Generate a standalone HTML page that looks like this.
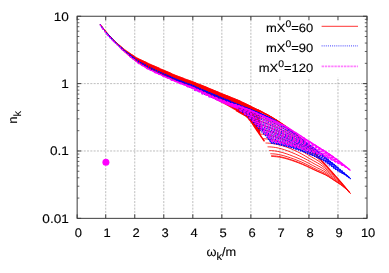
<!DOCTYPE html>
<html><head><meta charset="utf-8"><title>n_k vs omega_k/m</title>
<style>
html,body{margin:0;padding:0;background:#fff;}
body{width:389px;height:273px;overflow:hidden;}
svg{display:block;}
text{font-family:"Liberation Sans",sans-serif;fill:#000;stroke:#000;stroke-width:0.12px;text-rendering:geometricPrecision;filter:grayscale(1);}
</style></head><body>
<svg width="389" height="273" viewBox="0 0 389 273">
<defs><filter id="soft" x="0" y="0" width="389" height="273" filterUnits="userSpaceOnUse"><feGaussianBlur stdDeviation="0.38"/></filter></defs>
<rect width="389" height="273" fill="#fff"/>
<g filter="url(#soft)">
<g stroke="#999999" stroke-width="0.65" stroke-dasharray="2 1.3" fill="none">
<line x1="105.73" y1="16.25" x2="105.73" y2="218.35"/>
<line x1="134.76" y1="16.25" x2="134.76" y2="218.35"/>
<line x1="163.79" y1="16.25" x2="163.79" y2="218.35"/>
<line x1="192.82" y1="16.25" x2="192.82" y2="218.35"/>
<line x1="221.85" y1="16.25" x2="221.85" y2="218.35"/>
<line x1="250.88" y1="16.25" x2="250.88" y2="218.35"/>
<line x1="279.91" y1="16.25" x2="279.91" y2="218.35"/>
<line x1="308.94" y1="16.25" x2="308.94" y2="218.35"/>
<line x1="337.97" y1="16.25" x2="337.97" y2="218.35"/>
<line x1="77.15" y1="83.62" x2="367.00" y2="83.62"/>
<line x1="77.15" y1="150.98" x2="367.00" y2="150.98"/>
</g>
<g id="curves" fill="none" stroke-linejoin="round">
<path d="M100.00 24.00 L102.00 26.69 L104.00 29.27 L106.00 31.70 L108.00 34.00 L110.00 36.20 L112.00 38.29 L114.00 40.28 L116.00 42.16 L118.00 43.96 L120.00 45.70 L122.00 47.40 L124.00 49.00 L126.00 50.42 L128.00 51.80 L130.00 53.27 L132.00 54.70 L134.00 56.00 L136.00 57.18 L138.00 58.27 L140.00 59.30 L142.00 60.29 L144.00 61.25 L146.00 62.18 L148.00 63.10 L150.00 64.02 L152.00 64.92 L154.00 65.81 L156.00 66.70 L158.00 67.58 L160.00 68.46 L162.00 69.33 L164.00 70.20 L166.00 71.08 L168.00 71.95 L170.00 72.83 L172.00 73.70 L174.00 74.55 L176.00 75.39 L178.00 76.20 L180.00 76.98 L182.00 77.74 L184.00 78.48 L186.00 79.21 L188.00 79.93 L190.00 80.67 L192.00 81.42 L194.00 82.19 L196.00 82.97 L198.00 83.76 L200.00 84.56 L202.00 85.36 L204.00 86.18 L206.00 86.99 L208.00 87.81 L210.00 88.64 L212.00 89.49 L214.00 90.34 L216.00 91.19 L218.00 92.03 L220.00 92.87 L222.00 93.70 L224.00 94.51 L226.00 95.29 L228.00 96.07 L230.00 96.85 L232.00 97.63 L234.00 98.43 L236.00 99.25 L238.00 100.10 L240.00 100.99 L242.00 101.92 L244.00 102.87 L246.00 103.84 L248.00 104.83 L250.00 105.81 L252.00 106.79 L254.00 107.77 L256.00 108.77 L258.00 109.77 L260.00 110.80 L260.00 134.85 L258.00 131.96 L256.00 129.01 L254.00 126.00 L252.00 122.90 L250.00 120.22 L248.00 117.84 L246.00 116.00 L244.00 114.83 L242.00 113.74 L240.00 112.62 L238.00 111.50 L236.00 110.37 L234.00 109.23 L232.00 108.08 L230.00 106.93 L228.00 105.79 L226.00 104.67 L224.00 103.57 L222.00 102.50 L220.00 101.45 L218.00 100.41 L216.00 99.39 L214.00 98.37 L212.00 97.36 L210.00 96.37 L208.00 95.38 L206.00 94.41 L204.00 93.44 L202.00 92.48 L200.00 91.54 L198.00 90.60 L196.00 89.67 L194.00 88.76 L192.00 87.85 L190.00 86.96 L188.00 86.09 L186.00 85.24 L184.00 84.40 L182.00 83.57 L180.00 82.74 L178.00 81.92 L176.00 81.10 L174.00 80.27 L172.00 79.44 L170.00 78.60 L168.00 77.75 L166.00 76.88 L164.00 76.00 L162.00 75.11 L160.00 74.22 L158.00 73.33 L156.00 72.42 L154.00 71.50 L152.00 70.54 L150.00 69.54 L148.00 68.50 L146.00 67.41 L144.00 66.28 L142.00 65.11 L140.00 63.87 L138.00 62.58 L136.00 61.21 L134.00 59.76 L132.00 58.26 L130.00 56.71 L128.00 55.08 L126.00 53.29 L124.00 51.38 L122.00 49.49 L120.00 47.38 L118.00 45.09 L116.00 42.81 L114.00 40.58 L112.00 38.39 L110.00 36.22 L108.00 34.02 L106.00 31.71 L104.00 29.28 L102.00 26.70 L100.00 24.00Z" fill="#ff0000" stroke="#ff0000" stroke-width="0.6"/>
<g stroke="#ff0000" stroke-width="0.85">
<path d="M101.88 26.54 L103.63 28.80"/>
<path d="M106.80 32.65 L108.27 34.31 L112.31 38.61"/>
<path d="M113.51 40.04 L114.72 41.18 L118.13 44.23 L123.21 48.39"/>
<path d="M121.15 48.65 L122.16 49.26 L125.04 50.85 L129.46 53.28 L135.03 56.62"/>
<path d="M129.26 56.34 L130.11 56.62 L132.58 57.38 L136.44 58.52 L141.41 60.26 L147.22 62.74"/>
<path d="M137.59 62.02 L138.32 62.15 L140.47 62.53 L143.88 63.16 L148.33 64.21 L153.61 65.90 L159.51 68.24"/>
<path d="M145.99 67.00 L146.64 67.08 L148.54 67.30 L151.57 67.68 L155.59 68.34 L160.41 69.46 L165.86 71.18 L171.78 73.60"/>
<path d="M154.37 71.29 L154.95 71.34 L156.65 71.50 L159.39 71.76 L163.04 72.24 L167.46 73.09 L172.51 74.44 L178.05 76.33 L183.94 78.46"/>
<path d="M162.67 75.33 L163.19 75.36 L164.73 75.48 L167.23 75.67 L170.57 76.02 L174.66 76.63 L179.35 77.60 L184.53 79.01 L190.09 80.78 L195.92 82.94"/>
<path d="M170.84 78.80 L171.32 78.83 L172.73 78.91 L175.02 79.05 L178.11 79.30 L181.90 79.76 L186.28 80.54 L191.15 81.76 L196.39 83.40 L201.93 85.40 L207.67 87.67"/>
<path d="M178.85 82.02 L179.28 82.04 L180.59 82.11 L182.70 82.24 L185.58 82.47 L189.11 82.88 L193.22 83.60 L197.81 84.72 L202.78 86.21 L208.05 88.04 L213.52 90.18 L219.14 92.51"/>
<path d="M186.65 85.29 L187.06 85.32 L188.27 85.38 L190.24 85.49 L192.93 85.70 L196.24 86.07 L200.12 86.71 L204.46 87.73 L209.18 89.11 L214.20 90.82 L219.44 92.78 L224.83 94.87 L230.31 96.97"/>
<path d="M194.22 88.64 L194.61 88.66 L195.74 88.72 L197.59 88.82 L200.12 89.01 L203.24 89.36 L206.91 89.95 L211.03 90.89 L215.52 92.15 L220.32 93.68 L225.35 95.39 L230.53 97.24 L235.81 99.23 L241.13 101.51"/>
<path d="M201.55 92.13 L201.91 92.15 L202.97 92.20 L204.72 92.29 L207.11 92.46 L210.07 92.77 L213.55 93.29 L217.48 94.11 L221.77 95.19 L226.37 96.50 L231.20 98.04 L236.19 99.81 L241.29 101.84 L246.44 104.12 L251.58 106.59"/>
<path d="M208.60 95.52 L208.94 95.53 L209.95 95.58 L211.60 95.65 L213.87 95.79 L216.69 96.05 L220.01 96.50 L223.76 97.21 L227.88 98.17 L232.29 99.41 L236.94 100.94 L241.76 102.76 L246.70 104.75 L251.68 106.88 L256.68 109.17 L261.63 111.65"/>
<path d="M215.35 98.65 L215.67 98.66 L216.63 98.70 L218.21 98.77 L220.37 98.90 L223.07 99.15 L226.25 99.58 L229.84 100.27 L233.80 101.25 L238.06 102.53 L242.54 104.06 L247.21 105.78 L251.98 107.61 L256.83 109.59 L261.68 111.80 L266.50 114.24 L271.25 116.93"/>
<path d="M221.79 101.73 L222.10 101.74 L223.02 101.78 L224.53 101.86 L226.60 101.99 L229.18 102.24 L232.23 102.68 L235.70 103.38 L239.51 104.34 L243.62 105.55 L247.96 106.96 L252.48 108.55 L257.12 110.28 L261.82 112.20 L266.55 114.38 L271.25 116.91 L275.89 119.74 L280.42 122.68"/>
<path d="M227.89 104.70 L228.19 104.71 L229.07 104.75 L230.52 104.82 L232.51 104.95 L235.00 105.19 L237.94 105.60 L241.28 106.25 L244.97 107.13 L248.95 108.24 L253.16 109.57 L257.55 111.10 L262.06 112.78 L266.64 114.70 L271.25 116.97 L275.84 119.63 L280.37 122.58 L284.81 125.62 L289.10 128.69"/>
<path d="M233.65 107.71 L233.93 107.72 L234.78 107.76 L236.18 107.82 L238.10 107.94 L240.51 108.16 L243.35 108.54 L246.59 109.14 L250.16 109.98 L254.02 111.05 L258.11 112.33 L262.38 113.83 L266.78 115.54 L271.25 117.56 L275.76 119.94 L280.25 122.74 L284.68 125.80 L289.02 128.98 L293.23 132.02 L297.29 135.08"/>
<path d="M239.04 111.24 L239.32 111.25 L240.14 111.28 L241.49 111.35 L243.35 111.46 L245.68 111.67 L248.44 112.02 L251.58 112.61 L255.05 113.42 L258.81 114.48 L262.80 115.80 L266.96 117.38 L271.25 119.22 L275.63 121.36 L280.03 123.89 L284.43 126.82 L288.77 130.05 L293.03 133.09 L297.17 135.83 L301.15 138.65 L304.95 141.96"/>
<path d="M244.05 115.37 L244.32 115.38 L245.12 115.42 L246.43 115.48 L248.24 115.60 L250.50 115.81 L253.18 116.19 L256.24 116.81 L259.62 117.68 L263.29 118.82 L267.18 120.25 L271.25 121.96 L275.45 123.92 L279.73 126.19 L284.05 128.89 L288.37 131.87 L292.63 134.80 L296.82 137.52 L300.88 140.01 L304.80 142.60 L308.54 145.68 L312.08 149.43"/>
<path d="M248.67 119.81 L248.93 119.82 L249.71 119.86 L250.99 119.93 L252.75 120.05 L254.95 120.28 L257.57 120.69 L260.55 121.36 L263.86 122.30 L267.44 123.52 L271.25 125.04 L275.24 126.85 L279.36 128.94 L283.56 131.29 L287.80 133.80 L292.04 136.44 L296.23 139.08 L300.35 141.57 L304.35 143.88 L308.21 146.29 L311.90 149.45 L315.38 153.44 L318.64 157.31"/>
<path d="M252.89 124.27 L253.14 124.28 L253.90 124.33 L255.15 124.40 L256.87 124.53 L259.02 124.78 L261.58 125.21 L264.50 125.91 L267.74 126.90 L271.25 128.20 L274.99 129.81 L278.90 131.62 L282.95 133.56 L287.07 135.65 L291.25 137.92 L295.42 140.34 L299.55 142.78 L303.60 145.11 L307.55 147.32 L311.36 149.88 L314.99 153.21 L318.43 157.08 L321.65 160.63 L324.63 163.85"/>
<path d="M256.69 129.02 L256.94 129.04 L257.68 129.08 L258.90 129.16 L260.59 129.30 L262.70 129.56 L265.21 130.01 L268.07 130.72 L271.25 131.69 L274.70 132.91 L278.37 134.35 L282.22 135.97 L286.20 137.72 L290.27 139.63 L294.38 141.72 L298.49 143.97 L302.56 146.27 L306.57 148.61 L310.46 151.00 L314.22 153.66 L317.82 156.88 L321.22 160.44 L324.40 163.86 L327.34 166.97 L330.03 169.80"/>
<path d="M260.07 134.05 L260.31 134.07 L261.04 134.11 L262.24 134.17 L263.89 134.30 L265.97 134.53 L268.43 134.92 L271.25 135.55 L274.38 136.41 L277.78 137.50 L281.39 138.80 L285.19 140.27 L289.11 141.88 L293.12 143.64 L297.18 145.58 L301.24 147.76 L305.26 150.21 L309.22 152.72 L313.07 155.12 L316.79 157.62 L320.35 160.56 L323.71 163.97 L326.86 167.26 L329.78 170.05 L332.44 172.61 L334.82 175.18"/>
<path d="M263.01 138.73 L263.25 138.74 L263.97 138.78 L265.15 138.84 L266.78 138.95 L268.82 139.16 L271.25 139.51 L274.03 140.08 L277.12 140.87 L280.46 141.86 L284.03 143.06 L287.78 144.42 L291.66 145.90 L295.62 147.60 L299.63 149.65 L303.65 152.02 L307.63 154.53 L311.55 156.93 L315.36 159.11 L319.05 161.41 L322.57 164.25 L325.90 167.50 L329.03 170.44 L331.92 172.96 L334.56 175.29 L336.92 177.66 L339.01 179.96"/>
<path d="M265.52 142.99 L265.75 143.00 L266.46 143.04 L267.63 143.09 L269.23 143.19 L271.25 143.38 L273.65 143.71 L276.40 144.24 L279.45 144.97 L282.76 145.89 L286.29 147.03 L289.99 148.40 L293.83 150.00 L297.76 151.86 L301.73 153.97 L305.71 156.28 L309.66 158.58 L313.54 160.77 L317.32 162.84 L320.98 165.09 L324.47 167.76 L327.78 170.66 L330.88 173.32 L333.75 175.61 L336.37 177.77 L338.72 179.96 L340.79 182.10 L342.56 184.10"/>
<path d="M267.58 146.79 L267.81 146.80 L268.51 146.83 L269.66 146.89 L271.25 146.99 L273.25 147.18 L275.63 147.50 L278.34 148.04 L281.36 148.80 L284.64 149.81 L288.14 151.05 L291.82 152.51 L295.62 154.14 L299.51 155.95 L303.46 157.91 L307.41 160.01 L311.33 162.17 L315.18 164.30 L318.94 166.32 L322.57 168.37 L326.04 170.77 L329.33 173.40 L332.41 175.83 L335.27 177.96 L337.87 179.96 L340.21 182.01 L342.26 184.01 L344.02 185.89 L345.48 187.54"/>
<path d="M269.18 150.52 L269.41 150.53 L270.11 150.57 L271.25 150.62 L272.83 150.73 L274.81 150.94 L277.17 151.29 L279.86 151.86 L282.86 152.65 L286.12 153.67 L289.59 154.90 L293.24 156.30 L297.02 157.82 L300.89 159.46 L304.81 161.29 L308.74 163.32 L312.63 165.45 L316.47 167.45 L320.21 169.27 L323.82 171.13 L327.27 173.32 L330.55 175.75 L333.61 178.02 L336.45 180.01 L339.04 181.88 L341.37 183.81 L343.42 185.70 L345.17 187.44 L346.62 188.95 L347.76 190.26"/>
<path d="M270.33 153.69 L270.56 153.70 L271.25 153.74 L272.39 153.79 L273.96 153.90 L275.93 154.10 L278.27 154.45 L280.95 155.01 L283.93 155.77 L287.18 156.74 L290.63 157.88 L294.26 159.18 L298.03 160.60 L301.88 162.19 L305.78 163.99 L309.69 165.98 L313.57 167.96 L317.39 169.80 L321.12 171.48 L324.71 173.21 L328.16 175.26 L331.42 177.55 L334.48 179.70 L337.31 181.58 L339.89 183.37 L342.21 185.20 L344.25 186.99 L346.00 188.61 L347.44 190.03 L348.58 191.26 L349.39 192.22"/>
<path d="M271.02 155.73 L271.25 155.74 L271.94 155.77 L273.07 155.83 L274.64 155.93 L276.60 156.12 L278.93 156.45 L281.61 156.99 L284.58 157.71 L287.81 158.62 L291.26 159.72 L294.88 160.98 L298.63 162.38 L302.47 163.96 L306.36 165.73 L310.26 167.62 L314.14 169.50 L317.95 171.25 L321.66 172.85 L325.25 174.51 L328.69 176.47 L331.94 178.68 L334.99 180.75 L337.82 182.58 L340.40 184.30 L342.71 186.08 L344.75 187.78 L346.49 189.33 L347.94 190.70 L349.07 191.90 L349.88 192.82 L350.37 193.40"/>
<path d="M271.25 156.41 L271.48 156.42 L272.17 156.46 L273.30 156.51 L274.86 156.61 L276.82 156.80 L279.16 157.13 L281.83 157.65 L284.80 158.36 L288.02 159.26 L291.47 160.35 L295.08 161.60 L298.83 163.00 L302.67 164.57 L306.56 166.32 L310.46 168.17 L314.33 170.01 L318.13 171.73 L321.85 173.31 L325.43 174.94 L328.87 176.88 L332.12 179.07 L335.17 181.11 L337.99 182.91 L340.57 184.62 L342.88 186.38 L344.92 188.05 L346.66 189.58 L348.10 190.93 L349.23 192.11 L350.05 193.03 L350.54 193.60 L350.70 193.80"/>
<path d="M100.00 24.00 L101.88 26.54 L103.63 28.80 L106.80 32.65 L108.27 34.31 L112.31 38.61 L113.51 40.04"/>
<path d="M258.00 109.77 L259.50 110.54 L261.00 111.32 L262.50 112.10 L264.00 112.89 L265.50 113.70 L267.00 114.51 L268.50 115.35 L270.00 116.20 L271.50 117.08 L273.00 117.97 L274.50 118.88 L276.00 119.82 L277.50 120.77 L279.00 121.74 L280.50 122.73 L282.00 123.73 L283.50 124.75 L285.00 125.78 L286.50 126.82 L288.00 127.89 L289.50 128.98 L291.00 130.09 L292.50 131.23 L294.00 132.40 L295.50 133.61 L297.00 134.84 L298.50 136.11 L300.00 137.41 L301.50 138.75 L303.00 140.12 L304.50 141.53 L306.00 142.98 L307.50 144.47 L309.00 146.00 L310.50 147.62 L312.00 149.34 L313.50 151.14 L315.00 152.96 L316.50 154.79 L318.00 156.57 L319.50 158.27 L321.00 159.93 L322.50 161.55 L324.00 163.17 L325.50 164.79 L327.00 166.44 L328.50 168.10 L330.00 169.77 L331.50 171.44 L333.00 173.12 L334.50 174.81 L336.00 176.51 L337.50 178.23 L339.00 179.95 L340.50 181.69 L342.00 183.44 L343.50 185.20 L345.00 186.97 L346.50 188.75 L348.00 190.55 L349.50 192.35" stroke-width="1.1"/>
<path d="M236.00 110.37 L236.75 110.80 L237.50 111.22 L238.25 111.64 L239.00 112.06 L239.75 112.48 L240.50 112.90 L241.25 113.32 L242.00 113.74 L242.75 114.16 L243.50 114.57 L244.25 114.96 L245.00 115.36 L245.75 115.82 L246.50 116.39 L247.25 117.07 L248.00 117.84 L248.75 118.69 L249.50 119.60 L250.25 120.54 L251.00 121.50 L251.75 122.53 L252.50 123.67 L253.25 124.84 L254.00 126.00 L254.75 127.13 L255.50 128.26 L256.25 129.39 L257.00 130.50 L257.75 131.60 L258.50 132.68 L259.25 133.76 L260.00 134.85 L260.75 135.96 L261.50 137.09 L262.25 138.20 L263.00 139.30 L263.75 140.34 L264.50 141.35" stroke-width="1.5"/>
</g>
<path d="M236.00 103.78 L238.00 104.60 L240.00 105.41 L242.00 106.20 L244.00 106.99 L246.00 107.78 L248.00 108.58 L250.00 109.39 L252.00 110.21 L254.00 111.03 L256.00 111.85 L258.00 112.67 L260.00 113.50 L262.00 114.35 L264.00 115.21 L266.00 116.11 L268.00 117.03 L270.00 118.00 L272.00 119.02 L274.00 120.09 L276.00 121.21 L278.00 122.39 L280.00 123.60 L282.00 124.86 L284.00 126.16 L286.00 127.49 L288.00 128.86 L290.00 130.26 L292.00 131.69 L294.00 133.15 L296.00 134.63 L298.00 136.12 L300.00 137.63 L302.00 139.15 L304.00 140.67 L306.00 142.20 L308.00 143.73 L310.00 145.27 L312.00 146.84 L314.00 148.43 L316.00 150.05 L318.00 151.68 L320.00 153.32 L322.00 154.96 L324.00 156.60 L326.00 158.22 L328.00 159.82 L330.00 161.39 L330.00 167.48 L328.00 165.91 L326.00 164.31 L324.00 162.51 L322.00 160.62 L320.00 158.82 L318.00 157.30 L316.00 156.05 L314.00 154.91 L312.00 153.89 L310.00 153.00 L308.00 152.23 L306.00 151.54 L304.00 150.91 L302.00 150.34 L300.00 149.80 L298.00 149.28 L296.00 148.79 L294.00 148.30 L292.00 147.84 L290.00 147.42 L288.00 147.02 L286.00 146.63 L284.00 146.23 L282.00 145.79 L280.00 145.30 L278.00 144.82 L276.00 144.34 L274.00 143.73 L272.00 142.88 L270.00 141.03 L268.00 138.48 L266.00 136.24 L264.00 134.07 L262.00 131.97 L260.00 129.89 L258.00 127.65 L256.00 125.34 L254.00 123.00 L252.00 120.63 L250.00 118.41 L248.00 116.29 L246.00 114.50 L244.00 113.19 L242.00 112.01 L240.00 110.86 L238.00 109.80 L236.00 108.85Z" fill="#8414b8" opacity="0.30"/>
<g stroke="#0000ff" stroke-width="1.3" stroke-dasharray="1.3 1.2">
<path d="M101.88 27.05 L103.63 29.46"/>
<path d="M106.80 33.47 L108.27 35.14 L112.31 39.40"/>
<path d="M113.51 40.70 L114.72 41.87 L118.13 45.05 L123.21 49.54"/>
<path d="M121.15 48.41 L122.16 49.23 L125.04 51.47 L129.46 54.73 L135.03 58.82"/>
<path d="M129.26 55.95 L130.11 56.51 L132.58 58.06 L136.44 60.25 L141.41 62.95 L147.22 66.10"/>
<path d="M137.59 62.43 L138.32 62.76 L140.47 63.71 L143.88 65.16 L148.33 67.05 L153.61 69.29 L159.51 71.82"/>
<path d="M145.99 67.70 L146.64 67.91 L148.54 68.51 L151.57 69.46 L155.59 70.78 L160.41 72.51 L165.86 74.69 L171.78 77.32"/>
<path d="M154.37 71.87 L154.95 72.03 L156.65 72.48 L159.39 73.22 L163.04 74.32 L167.46 75.86 L172.51 77.81 L178.05 80.05 L183.94 82.29"/>
<path d="M162.67 75.78 L163.19 75.91 L164.73 76.31 L167.23 76.97 L170.57 77.93 L174.66 79.23 L179.35 80.81 L184.53 82.60 L190.09 84.58 L195.92 86.91"/>
<path d="M170.84 79.60 L171.32 79.71 L172.73 80.03 L175.02 80.55 L178.11 81.29 L181.90 82.29 L186.28 83.58 L191.15 85.22 L196.39 87.25 L201.93 89.56 L207.67 91.98"/>
<path d="M178.85 82.98 L179.28 83.06 L180.59 83.32 L182.70 83.74 L185.58 84.38 L189.11 85.31 L193.22 86.61 L197.81 88.30 L202.78 90.25 L208.05 92.31 L213.52 94.45 L219.14 96.72"/>
<path d="M186.65 86.40 L187.06 86.48 L188.27 86.74 L190.24 87.18 L192.93 87.84 L196.24 88.78 L200.12 90.03 L204.46 91.56 L209.18 93.24 L214.20 95.06 L219.44 97.00 L224.83 99.12 L230.31 101.39"/>
<path d="M194.22 90.09 L194.61 90.17 L195.74 90.41 L197.59 90.81 L200.12 91.39 L203.24 92.21 L206.91 93.27 L211.03 94.59 L215.52 96.10 L220.32 97.75 L225.35 99.58 L230.53 101.57 L235.81 103.71 L241.13 105.86"/>
<path d="M201.55 93.44 L201.91 93.51 L202.97 93.72 L204.72 94.06 L207.11 94.56 L210.07 95.28 L213.55 96.23 L217.48 97.43 L221.77 98.83 L226.37 100.38 L231.20 102.09 L236.19 103.96 L241.29 105.94 L246.44 107.96 L251.58 110.04"/>
<path d="M208.60 96.44 L208.94 96.50 L209.95 96.69 L211.60 96.99 L213.87 97.46 L216.69 98.12 L220.01 99.00 L223.76 100.13 L227.88 101.43 L232.29 102.89 L236.94 104.49 L241.76 106.22 L246.70 108.08 L251.68 110.08 L256.68 112.13 L261.63 114.19"/>
<path d="M215.35 99.26 L215.67 99.31 L216.63 99.49 L218.21 99.77 L220.37 100.21 L223.07 100.82 L226.25 101.65 L229.84 102.70 L233.80 103.93 L238.06 105.28 L242.54 106.75 L247.21 108.39 L251.98 110.25 L256.83 112.21 L261.68 114.23 L266.50 116.35 L271.25 118.63"/>
<path d="M221.79 101.95 L222.10 102.01 L223.02 102.17 L224.53 102.44 L226.60 102.84 L229.18 103.42 L232.23 104.19 L235.70 105.17 L239.51 106.29 L243.62 107.55 L247.96 108.97 L252.48 110.61 L257.12 112.43 L261.82 114.38 L266.55 116.46 L271.25 118.69 L275.89 121.17 L280.42 123.86"/>
<path d="M227.89 104.51 L228.19 104.56 L229.07 104.71 L230.52 104.96 L232.51 105.33 L235.00 105.86 L237.94 106.57 L241.28 107.48 L244.97 108.55 L248.95 109.80 L253.16 111.22 L257.55 112.82 L262.06 114.63 L266.64 116.64 L271.25 118.84 L275.84 121.27 L280.37 123.90 L284.81 126.71 L289.10 129.63"/>
<path d="M233.65 107.19 L233.93 107.24 L234.78 107.37 L236.18 107.60 L238.10 107.95 L240.51 108.46 L243.35 109.15 L246.59 110.06 L250.16 111.13 L254.02 112.34 L258.11 113.73 L262.38 115.35 L266.78 117.24 L271.25 119.40 L275.76 121.82 L280.25 124.41 L284.68 127.16 L289.02 130.05 L293.23 132.81 L297.29 135.59"/>
<path d="M239.04 110.48 L239.32 110.52 L240.14 110.66 L241.49 110.89 L243.35 111.23 L245.68 111.73 L248.44 112.40 L251.58 113.27 L255.05 114.33 L258.81 115.57 L262.80 117.02 L266.96 118.77 L271.25 120.88 L275.63 123.29 L280.03 125.89 L284.43 128.62 L288.77 131.40 L293.03 133.96 L297.17 136.29 L301.15 138.69 L304.95 141.40"/>
<path d="M244.05 114.33 L244.32 114.38 L245.12 114.52 L246.43 114.74 L248.24 115.09 L250.50 115.60 L253.18 116.30 L256.24 117.23 L259.62 118.37 L263.29 119.76 L267.18 121.42 L271.25 123.40 L275.45 125.72 L279.73 128.29 L284.05 130.98 L288.37 133.48 L292.63 135.77 L296.82 137.90 L300.88 139.86 L304.80 141.91 L308.54 144.26 L312.08 146.90"/>
<path d="M248.67 118.18 L248.93 118.23 L249.71 118.37 L250.99 118.63 L252.75 119.01 L254.95 119.58 L257.57 120.37 L260.55 121.43 L263.86 122.73 L267.44 124.27 L271.25 126.07 L275.24 128.18 L279.36 130.59 L283.56 132.99 L287.80 135.24 L292.04 137.32 L296.23 139.26 L300.35 141.08 L304.35 142.79 L308.21 144.58 L311.90 146.77 L315.38 149.50 L318.64 152.21"/>
<path d="M252.89 121.91 L253.14 121.96 L253.90 122.13 L255.15 122.41 L256.87 122.83 L259.02 123.46 L261.58 124.31 L264.50 125.45 L267.74 126.82 L271.25 128.43 L274.99 130.29 L278.90 132.31 L282.95 134.39 L287.07 136.43 L291.25 138.37 L295.42 140.18 L299.55 141.89 L303.60 143.51 L307.55 145.03 L311.36 146.75 L314.99 149.02 L318.43 151.84 L321.65 154.62 L324.63 157.11"/>
<path d="M256.69 125.49 L256.94 125.55 L257.68 125.72 L258.90 126.02 L260.59 126.46 L262.70 127.11 L265.21 128.01 L268.07 129.18 L271.25 130.58 L274.70 132.11 L278.37 133.74 L282.22 135.48 L286.20 137.29 L290.27 139.09 L294.38 140.81 L298.49 142.44 L302.56 143.98 L306.57 145.46 L310.46 146.97 L314.22 148.75 L317.82 151.08 L321.22 153.98 L324.40 156.83 L327.34 159.31 L330.03 161.42"/>
<path d="M260.07 129.00 L260.31 129.06 L261.04 129.23 L262.24 129.54 L263.89 129.99 L265.97 130.65 L268.43 131.51 L271.25 132.58 L274.38 133.80 L277.78 135.12 L281.39 136.55 L285.19 138.09 L289.11 139.70 L293.12 141.32 L297.18 142.88 L301.24 144.35 L305.26 145.79 L309.22 147.29 L313.07 148.85 L316.79 150.68 L320.35 153.07 L323.71 156.03 L326.86 158.91 L329.78 161.29 L332.44 163.33 L334.82 165.21"/>
<path d="M263.01 132.25 L263.25 132.30 L263.97 132.46 L265.15 132.73 L266.78 133.13 L268.82 133.70 L271.25 134.45 L274.03 135.39 L277.12 136.47 L280.46 137.65 L284.03 138.93 L287.78 140.31 L291.66 141.77 L295.62 143.24 L299.63 144.66 L303.65 146.07 L307.63 147.54 L311.55 149.08 L315.36 150.68 L319.05 152.55 L322.57 155.00 L325.90 158.02 L329.03 160.80 L331.92 163.11 L334.56 165.11 L336.92 166.98 L339.01 168.64"/>
<path d="M265.52 135.27 L265.75 135.32 L266.46 135.46 L267.63 135.69 L269.23 136.05 L271.25 136.54 L273.65 137.20 L276.40 138.04 L279.45 138.99 L282.76 140.05 L286.29 141.20 L289.99 142.44 L293.83 143.77 L297.76 145.11 L301.73 146.50 L305.71 147.94 L309.66 149.45 L313.54 151.04 L317.32 152.68 L320.98 154.59 L324.47 157.09 L327.78 160.07 L330.88 162.75 L333.75 165.01 L336.37 167.00 L338.72 168.75 L340.79 170.23 L342.56 171.68"/>
<path d="M267.58 137.94 L267.81 137.99 L268.51 138.11 L269.66 138.32 L271.25 138.63 L273.25 139.07 L275.63 139.66 L278.34 140.41 L281.36 141.27 L284.64 142.22 L288.14 143.26 L291.82 144.39 L295.62 145.61 L299.51 146.96 L303.46 148.39 L307.41 149.88 L311.33 151.43 L315.18 153.05 L318.94 154.73 L322.57 156.69 L326.04 159.20 L329.33 162.05 L332.41 164.66 L335.27 166.91 L337.87 168.77 L340.21 170.33 L342.26 171.69 L344.02 173.02 L345.48 174.24"/>
<path d="M269.18 140.18 L269.41 140.22 L270.11 140.33 L271.25 140.52 L272.83 140.80 L274.81 141.20 L277.17 141.73 L279.86 142.41 L282.86 143.19 L286.12 144.06 L289.59 145.02 L293.24 146.10 L297.02 147.36 L300.89 148.74 L304.81 150.21 L308.74 151.74 L312.63 153.32 L316.47 154.98 L320.21 156.70 L323.82 158.67 L327.27 161.08 L330.55 163.85 L333.61 166.44 L336.45 168.58 L339.04 170.26 L341.37 171.69 L343.42 172.94 L345.17 174.17 L346.62 175.30 L347.76 176.28"/>
<path d="M270.33 141.83 L270.56 141.87 L271.25 141.97 L272.39 142.14 L273.96 142.41 L275.93 142.78 L278.27 143.27 L280.95 143.90 L283.93 144.63 L287.18 145.45 L290.63 146.41 L294.26 147.52 L298.03 148.81 L301.88 150.22 L305.78 151.72 L309.69 153.27 L313.57 154.89 L317.39 156.57 L321.12 158.31 L324.71 160.22 L328.16 162.56 L331.42 165.29 L334.48 167.85 L337.31 169.81 L339.89 171.37 L342.21 172.71 L344.25 173.88 L346.00 175.03 L347.44 176.10 L348.58 177.03 L349.39 177.76"/>
<path d="M271.02 142.83 L271.25 142.86 L271.94 142.96 L273.07 143.12 L274.64 143.37 L276.60 143.73 L278.93 144.20 L281.61 144.80 L284.58 145.52 L287.81 146.35 L291.26 147.32 L294.88 148.45 L298.63 149.75 L302.47 151.18 L306.36 152.69 L310.26 154.27 L314.14 155.90 L317.95 157.61 L321.66 159.31 L325.25 161.19 L328.69 163.49 L331.94 166.22 L334.99 168.68 L337.82 170.55 L340.40 172.04 L342.71 173.33 L344.75 174.45 L346.49 175.56 L347.94 176.59 L349.07 177.50 L349.88 178.21 L350.37 178.66"/>
<path d="M271.25 143.16 L271.48 143.19 L272.17 143.29 L273.30 143.45 L274.86 143.69 L276.82 144.04 L279.16 144.51 L281.83 145.11 L284.80 145.82 L288.02 146.66 L291.47 147.64 L295.08 148.77 L298.83 150.08 L302.67 151.51 L306.56 153.03 L310.46 154.61 L314.33 156.25 L318.13 157.96 L321.85 159.65 L325.43 161.51 L328.87 163.81 L332.12 166.53 L335.17 168.96 L337.99 170.79 L340.57 172.27 L342.88 173.54 L344.92 174.65 L346.66 175.73 L348.10 176.75 L349.23 177.66 L350.05 178.37 L350.54 178.81 L350.70 178.96"/>
<path d="M100.00 24.30 L101.88 27.05 L103.63 29.46 L106.80 33.47 L108.27 35.14 L112.31 39.40 L113.51 40.70"/>
<path d="M108.00 34.83 L110.00 37.01 L112.00 39.09 L114.00 41.10 L116.00 43.02 L118.00 44.88 L120.00 46.70 L122.00 48.48 L124.00 50.20 L126.00 51.82 L128.00 53.40 L130.00 55.02 L132.00 56.60 L134.00 58.09 L136.00 59.48 L138.00 60.77 L140.00 62.00 L142.00 63.19 L144.00 64.34 L146.00 65.45 L148.00 66.50 L150.00 67.50 L152.00 68.45 L154.00 69.37 L156.00 70.27 L158.00 71.15 L160.00 72.03 L162.00 72.91 L164.00 73.80 L166.00 74.70 L168.00 75.61 L170.00 76.52 L172.00 77.42 L174.00 78.30 L176.00 79.17 L178.00 80.00 L180.00 80.80 L182.00 81.57 L184.00 82.31 L186.00 83.05 L188.00 83.78 L190.00 84.53 L192.00 85.30 L194.00 86.11 L196.00 86.94 L198.00 87.80 L200.00 88.67 L202.00 89.54 L204.00 90.42 L206.00 91.28 L208.00 92.12 L210.00 92.95 L212.00 93.78 L214.00 94.60 L216.00 95.43 L218.00 96.25 L220.00 97.07 L222.00 97.90 L224.00 98.74 L226.00 99.58 L228.00 100.42 L230.00 101.26 L232.00 102.11 L234.00 102.95 L236.00 103.78 L238.00 104.60 L240.00 105.41 L242.00 106.20 L244.00 106.99 L246.00 107.78 L248.00 108.58 L250.00 109.39 L252.00 110.21 L254.00 111.03 L256.00 111.85 L258.00 112.67 L260.00 113.50 L262.00 114.35 L264.00 115.21 L266.00 116.11 L268.00 117.03 L270.00 118.00 L272.00 119.02 L274.00 120.09 L276.00 121.21 L278.00 122.39 L280.00 123.60 L282.00 124.86 L284.00 126.16 L286.00 127.49 L288.00 128.86 L290.00 130.26 L292.00 131.69 L294.00 133.15 L296.00 134.63 L298.00 136.12 L300.00 137.63 L302.00 139.15 L304.00 140.67 L306.00 142.20 L308.00 143.73 L310.00 145.27 L312.00 146.84 L314.00 148.43 L316.00 150.05 L318.00 151.68 L320.00 153.32 L322.00 154.96 L324.00 156.60 L326.00 158.22 L328.00 159.82 L330.00 161.39 L332.00 162.97 L334.00 164.55 L336.00 166.15 L338.00 167.80 L340.00 169.48 L342.00 171.20 L344.00 172.94 L346.00 174.70 L348.00 176.50 L350.00 178.32"/>
<path d="M240.00 110.86 L240.75 111.28 L241.50 111.71 L242.25 112.15 L243.00 112.60 L243.75 113.04 L244.50 113.49 L245.25 113.97 L246.00 114.50 L246.75 115.11 L247.50 115.80 L248.25 116.54 L249.00 117.33 L249.75 118.14 L250.50 118.96 L251.25 119.77 L252.00 120.63 L252.75 121.52 L253.50 122.41 L254.25 123.29 L255.00 124.17 L255.75 125.05 L256.50 125.92 L257.25 126.79 L258.00 127.65 L258.75 128.50 L259.50 129.34 L260.25 130.16 L261.00 130.95 L261.75 131.71 L262.50 132.48 L263.25 133.27 L264.00 134.07 L264.75 134.88 L265.50 135.70 L266.25 136.51 L267.00 137.32 L267.75 138.18 L268.50 139.11 L269.25 140.06 L270.00 141.03 L270.75 141.93" transform="translate(0.0 0.0)"/>
<path d="M240.00 110.86 L240.75 111.28 L241.50 111.71 L242.25 112.15 L243.00 112.60 L243.75 113.04 L244.50 113.49 L245.25 113.97 L246.00 114.50 L246.75 115.11 L247.50 115.80 L248.25 116.54 L249.00 117.33 L249.75 118.14 L250.50 118.96 L251.25 119.77 L252.00 120.63 L252.75 121.52 L253.50 122.41 L254.25 123.29 L255.00 124.17 L255.75 125.05 L256.50 125.92 L257.25 126.79 L258.00 127.65 L258.75 128.50 L259.50 129.34 L260.25 130.16 L261.00 130.95 L261.75 131.71 L262.50 132.48 L263.25 133.27 L264.00 134.07 L264.75 134.88 L265.50 135.70 L266.25 136.51 L267.00 137.32 L267.75 138.18 L268.50 139.11 L269.25 140.06 L270.00 141.03 L270.75 141.93" transform="translate(0.5 -1.6)"/>
<path d="M240.00 110.86 L240.75 111.28 L241.50 111.71 L242.25 112.15 L243.00 112.60 L243.75 113.04 L244.50 113.49 L245.25 113.97 L246.00 114.50 L246.75 115.11 L247.50 115.80 L248.25 116.54 L249.00 117.33 L249.75 118.14 L250.50 118.96 L251.25 119.77 L252.00 120.63 L252.75 121.52 L253.50 122.41 L254.25 123.29 L255.00 124.17 L255.75 125.05 L256.50 125.92 L257.25 126.79 L258.00 127.65 L258.75 128.50 L259.50 129.34 L260.25 130.16 L261.00 130.95 L261.75 131.71 L262.50 132.48 L263.25 133.27 L264.00 134.07 L264.75 134.88 L265.50 135.70 L266.25 136.51 L267.00 137.32 L267.75 138.18 L268.50 139.11 L269.25 140.06 L270.00 141.03 L270.75 141.93" transform="translate(1.0 -3.2)"/>
</g>
<path d="M112.00 39.88 L114.00 41.90 L116.00 43.82 L118.00 45.67 L120.00 47.50 L122.00 49.33 L124.00 51.10 L126.00 52.76 L128.00 54.40 L130.00 56.17 L132.00 57.90 L134.00 59.46 L136.00 60.93 L138.00 62.36 L140.00 63.70 L142.00 64.96 L144.00 66.17 L146.00 67.31 L148.00 68.40 L150.00 69.43 L152.00 70.42 L154.00 71.38 L156.00 72.30 L158.00 73.21 L160.00 74.11 L162.00 75.00 L164.00 75.90 L166.00 76.81 L168.00 77.71 L170.00 78.61 L172.00 79.50 L174.00 80.36 L176.00 81.20 L178.00 82.00 L180.00 82.75 L182.00 83.46 L184.00 84.14 L186.00 84.81 L188.00 85.48 L190.00 86.18 L192.00 86.91 L194.00 87.70 L196.00 88.56 L198.00 89.45 L200.00 90.38 L202.00 91.31 L204.00 92.24 L206.00 93.16 L208.00 94.04 L210.00 94.92 L212.00 95.80 L214.00 96.67 L216.00 97.53 L218.00 98.38 L220.00 99.20 L222.00 100.00 L224.00 100.77 L226.00 101.51 L228.00 102.23 L230.00 102.94 L232.00 103.64 L234.00 104.35 L236.00 105.06 L238.00 105.80 L238.00 109.50 L236.00 108.59 L234.00 107.75 L232.00 106.96 L230.00 106.20 L228.00 105.45 L226.00 104.67 L224.00 103.87 L222.00 103.00 L220.00 102.06 L218.00 101.07 L216.00 100.03 L214.00 98.97 L212.00 97.92 L210.00 96.88 L208.00 95.88 L206.00 94.93 L204.00 94.01 L202.00 93.10 L200.00 92.22 L198.00 91.34 L196.00 90.48 L194.00 89.62 L192.00 88.78 L190.00 87.95 L188.00 87.15 L186.00 86.35 L184.00 85.55 L182.00 84.75 L180.00 83.94 L178.00 83.10 L176.00 82.25 L174.00 81.38 L172.00 80.50 L170.00 79.61 L168.00 78.72 L166.00 77.81 L164.00 76.90 L162.00 75.99 L160.00 75.08 L158.00 74.17 L156.00 73.25 L154.00 72.31 L152.00 71.34 L150.00 70.34 L148.00 69.31 L146.00 68.23 L144.00 67.10 L142.00 65.89 L140.00 64.60 L138.00 63.23 L136.00 61.75 L134.00 60.21 L132.00 58.60 L130.00 56.84 L128.00 54.96 L126.00 53.19 L124.00 51.46 L122.00 49.62 L120.00 47.71 L118.00 45.81 L116.00 43.91 L114.00 41.95 L112.00 39.91Z" fill="#ff00ff" stroke="none" opacity="0.9"/>
<path d="M236.00 105.06 L238.00 105.80 L240.00 106.55 L242.00 107.30 L244.00 108.06 L246.00 108.82 L248.00 109.60 L250.00 110.40 L252.00 111.21 L254.00 112.03 L256.00 112.87 L258.00 113.72 L260.00 114.58 L262.00 115.45 L264.00 116.33 L266.00 117.21 L268.00 118.10 L270.00 119.00 L272.00 119.89 L274.00 120.77 L276.00 121.66 L278.00 122.57 L280.00 123.49 L282.00 124.46 L284.00 125.47 L286.00 126.55 L288.00 127.72 L290.00 128.95 L292.00 130.23 L294.00 131.52 L296.00 132.80 L298.00 134.07 L300.00 135.36 L302.00 136.65 L304.00 137.95 L306.00 139.25 L308.00 140.55 L310.00 141.85 L312.00 143.15 L314.00 144.46 L316.00 145.76 L318.00 147.04 L320.00 148.30 L322.00 149.50 L324.00 150.68 L326.00 151.94 L328.00 153.25 L330.00 154.59 L330.00 161.88 L328.00 160.69 L326.00 159.55 L324.00 158.46 L322.00 157.37 L320.00 156.26 L318.00 155.16 L316.00 154.09 L314.00 153.06 L312.00 152.09 L310.00 151.21 L308.00 150.41 L306.00 149.67 L304.00 148.98 L302.00 148.32 L300.00 147.70 L298.00 147.11 L296.00 146.54 L294.00 146.00 L292.00 145.49 L290.00 145.03 L288.00 144.59 L286.00 144.16 L284.00 143.73 L282.00 143.28 L280.00 142.80 L278.00 142.37 L276.00 141.97 L274.00 141.48 L272.00 140.74 L270.00 138.95 L268.00 136.64 L266.00 134.51 L264.00 132.48 L262.00 130.57 L260.00 128.70 L258.00 126.59 L256.00 124.41 L254.00 122.20 L252.00 119.90 L250.00 117.75 L248.00 115.71 L246.00 114.00 L244.00 112.76 L242.00 111.63 L240.00 110.52 L238.00 109.50 L236.00 108.59Z" fill="#d030e8" opacity="0.16"/>
<g stroke="#ff00ff" stroke-width="1.15" stroke-dasharray="2.2 1.7">
<path d="M101.88 27.51 L103.63 30.05"/>
<path d="M106.80 34.19 L108.27 35.90 L112.31 40.19"/>
<path d="M113.51 41.46 L114.72 42.63 L118.13 45.80 L123.21 50.42"/>
<path d="M121.15 48.81 L122.16 49.70 L125.04 52.13 L129.46 55.74 L135.03 60.22"/>
<path d="M129.26 56.15 L130.11 56.86 L132.58 58.77 L136.44 61.46 L141.41 64.64 L147.22 67.98"/>
<path d="M137.59 62.93 L138.32 63.38 L140.47 64.61 L143.88 66.47 L148.33 68.74 L153.61 71.23 L159.51 73.89"/>
<path d="M145.99 68.29 L146.64 68.58 L148.54 69.43 L151.57 70.73 L155.59 72.40 L160.41 74.41 L165.86 76.75 L171.78 79.40"/>
<path d="M154.37 72.51 L154.95 72.73 L156.65 73.37 L159.39 74.39 L163.04 75.80 L167.46 77.61 L172.51 79.74 L178.05 82.02 L183.94 84.12"/>
<path d="M162.67 76.21 L163.19 76.40 L164.73 76.97 L167.23 77.90 L170.57 79.18 L174.66 80.76 L179.35 82.53 L184.53 84.31 L190.09 86.20 L195.92 88.52"/>
<path d="M170.84 79.92 L171.32 80.08 L172.73 80.57 L175.02 81.34 L178.11 82.38 L181.90 83.59 L186.28 84.98 L191.15 86.66 L196.39 88.82 L201.93 91.32 L207.67 93.89"/>
<path d="M178.85 83.32 L179.28 83.44 L180.59 83.80 L182.70 84.38 L185.58 85.19 L189.11 86.28 L193.22 87.77 L197.81 89.76 L202.78 92.01 L208.05 94.23 L213.52 96.51 L219.14 98.85"/>
<path d="M186.65 86.39 L187.06 86.51 L188.27 86.87 L190.24 87.50 L192.93 88.44 L196.24 89.75 L200.12 91.40 L204.46 93.26 L209.18 95.18 L214.20 97.15 L219.44 99.14 L224.83 101.12 L230.31 103.05"/>
<path d="M194.22 90.06 L194.61 90.20 L195.74 90.61 L197.59 91.29 L200.12 92.23 L203.24 93.41 L206.91 94.81 L211.03 96.42 L215.52 98.12 L220.32 99.81 L225.35 101.46 L230.53 103.14 L235.81 104.98 L241.13 106.97"/>
<path d="M201.55 93.64 L201.91 93.76 L202.97 94.11 L204.72 94.68 L207.11 95.49 L210.07 96.52 L213.55 97.76 L217.48 99.16 L221.77 100.59 L226.37 101.99 L231.20 103.43 L236.19 105.05 L241.29 106.95 L246.44 108.97 L251.58 111.04"/>
<path d="M208.60 96.62 L208.94 96.73 L209.95 97.04 L211.60 97.55 L213.87 98.26 L216.69 99.16 L220.01 100.21 L223.76 101.37 L227.88 102.58 L232.29 103.85 L236.94 105.28 L241.76 106.95 L246.70 108.88 L251.68 110.96 L256.68 113.12 L261.63 115.29"/>
<path d="M215.35 99.30 L215.67 99.39 L216.63 99.66 L218.21 100.09 L220.37 100.68 L223.07 101.42 L226.25 102.30 L229.84 103.32 L233.80 104.47 L238.06 105.76 L242.54 107.23 L247.21 108.92 L251.98 110.91 L256.83 113.10 L261.68 115.34 L266.50 117.48 L271.25 119.56"/>
<path d="M221.79 101.72 L222.10 101.79 L223.02 102.01 L224.53 102.37 L226.60 102.87 L229.18 103.54 L232.23 104.37 L235.70 105.39 L239.51 106.58 L243.62 107.89 L247.96 109.39 L252.48 111.15 L257.12 113.24 L261.82 115.51 L266.55 117.72 L271.25 119.74 L275.89 121.66 L280.42 123.69"/>
<path d="M227.89 103.98 L228.19 104.05 L229.07 104.26 L230.52 104.60 L232.51 105.10 L235.00 105.78 L237.94 106.64 L241.28 107.69 L244.97 108.90 L248.95 110.25 L253.16 111.82 L257.55 113.68 L262.06 115.85 L266.64 118.07 L271.25 120.13 L275.84 121.99 L280.37 123.86 L284.81 125.95 L289.10 128.39"/>
<path d="M233.65 106.58 L233.93 106.65 L234.78 106.86 L236.18 107.22 L238.10 107.73 L240.51 108.42 L243.35 109.31 L246.59 110.39 L250.16 111.67 L254.02 113.11 L258.11 114.77 L262.38 116.68 L266.78 118.75 L271.25 120.78 L275.76 122.68 L280.25 124.52 L284.68 126.47 L289.02 128.76 L293.23 131.18 L297.29 133.62"/>
<path d="M239.04 109.81 L239.32 109.88 L240.14 110.11 L241.49 110.48 L243.35 111.03 L245.68 111.77 L248.44 112.71 L251.58 113.88 L255.05 115.24 L258.81 116.73 L262.80 118.33 L266.96 120.07 L271.25 121.93 L275.63 123.84 L280.03 125.78 L284.43 127.78 L288.77 129.91 L293.03 132.05 L297.17 134.09 L301.15 136.23 L304.95 138.57"/>
<path d="M244.05 113.82 L244.32 113.90 L245.12 114.15 L246.43 114.55 L248.24 115.14 L250.50 115.92 L253.18 116.89 L256.24 118.04 L259.62 119.30 L263.29 120.62 L267.18 122.04 L271.25 123.64 L275.45 125.50 L279.73 127.58 L284.05 129.73 L288.37 131.68 L292.63 133.46 L296.82 135.25 L300.88 137.04 L304.80 138.92 L308.54 140.98 L312.08 143.20"/>
<path d="M248.67 117.87 L248.93 117.94 L249.71 118.17 L250.99 118.56 L252.75 119.10 L254.95 119.80 L257.57 120.66 L260.55 121.68 L263.86 122.81 L267.44 124.07 L271.25 125.50 L275.24 127.23 L279.36 129.31 L283.56 131.39 L287.80 133.22 L292.04 134.85 L296.23 136.40 L300.35 137.98 L304.35 139.56 L308.21 141.23 L311.90 143.14 L315.38 145.35 L318.64 147.45"/>
<path d="M252.89 121.20 L253.14 121.27 L253.90 121.47 L255.15 121.82 L256.87 122.31 L259.02 122.96 L261.58 123.79 L264.50 124.80 L267.74 125.98 L271.25 127.35 L274.99 128.95 L278.90 130.73 L282.95 132.58 L287.07 134.32 L291.25 135.93 L295.42 137.38 L299.55 138.77 L303.60 140.18 L307.55 141.60 L311.36 143.18 L314.99 145.08 L318.43 147.26 L321.65 149.28 L324.63 151.07"/>
<path d="M256.69 124.13 L256.94 124.19 L257.68 124.40 L258.90 124.75 L260.59 125.25 L262.70 125.94 L265.21 126.83 L268.07 127.95 L271.25 129.26 L274.70 130.64 L278.37 132.08 L282.22 133.59 L286.20 135.19 L290.27 136.76 L294.38 138.21 L298.49 139.51 L302.56 140.76 L306.57 142.05 L310.46 143.43 L314.22 145.00 L317.82 146.88 L321.22 148.99 L324.40 150.95 L327.34 152.86 L330.03 154.61"/>
<path d="M260.07 127.18 L260.31 127.26 L261.04 127.49 L262.24 127.88 L263.89 128.44 L265.97 129.19 L268.43 130.11 L271.25 131.18 L274.38 132.33 L277.78 133.50 L281.39 134.74 L285.19 136.09 L289.11 137.53 L293.12 138.94 L297.18 140.24 L301.24 141.42 L305.26 142.59 L309.22 143.87 L313.07 145.24 L316.79 146.79 L320.35 148.62 L323.71 150.64 L326.86 152.73 L329.78 154.60 L332.44 156.31 L334.82 157.96"/>
<path d="M263.01 130.42 L263.25 130.50 L263.97 130.72 L265.15 131.08 L266.78 131.58 L268.82 132.24 L271.25 133.02 L274.03 133.93 L277.12 134.93 L280.46 135.98 L284.03 137.10 L287.78 138.32 L291.66 139.61 L295.62 140.89 L299.63 142.08 L303.65 143.22 L307.63 144.39 L311.55 145.66 L315.36 147.01 L319.05 148.52 L322.57 150.26 L325.90 152.39 L329.03 154.45 L331.92 156.28 L334.56 157.95 L336.92 159.57 L339.01 161.06"/>
<path d="M265.52 133.46 L265.75 133.52 L266.46 133.70 L267.63 134.01 L269.23 134.44 L271.25 135.01 L273.65 135.70 L276.40 136.52 L279.45 137.41 L282.76 138.35 L286.29 139.35 L289.99 140.44 L293.83 141.61 L297.76 142.81 L301.73 143.99 L305.71 145.13 L309.66 146.29 L313.54 147.53 L317.32 148.83 L320.98 150.26 L324.47 152.10 L327.78 154.23 L330.88 156.24 L333.75 158.02 L336.37 159.65 L338.72 161.15 L340.79 162.50 L342.56 163.83"/>
<path d="M267.58 136.10 L267.81 136.16 L268.51 136.32 L269.66 136.60 L271.25 136.98 L273.25 137.49 L275.63 138.11 L278.34 138.84 L281.36 139.64 L284.64 140.48 L288.14 141.38 L291.82 142.39 L295.62 143.53 L299.51 144.73 L303.46 145.90 L307.41 147.02 L311.33 148.14 L315.18 149.32 L318.94 150.57 L322.57 152.11 L326.04 153.95 L329.33 156.03 L332.41 158.00 L335.27 159.73 L337.87 161.23 L340.21 162.59 L342.26 163.84 L344.02 165.08 L345.48 166.22"/>
<path d="M269.18 138.34 L269.41 138.39 L270.11 138.54 L271.25 138.79 L272.83 139.13 L274.81 139.59 L277.17 140.15 L279.86 140.81 L282.86 141.53 L286.12 142.32 L289.59 143.20 L293.24 144.20 L297.02 145.34 L300.89 146.52 L304.81 147.67 L308.74 148.75 L312.63 149.81 L316.47 150.98 L320.21 152.33 L323.82 153.86 L327.27 155.66 L330.55 157.69 L333.61 159.61 L336.45 161.22 L339.04 162.59 L341.37 163.85 L343.42 165.01 L345.17 166.15 L346.62 167.21 L347.76 168.13"/>
<path d="M270.33 140.00 L270.56 140.05 L271.25 140.18 L272.39 140.41 L273.96 140.73 L275.93 141.15 L278.27 141.67 L280.95 142.30 L283.93 143.01 L287.18 143.79 L290.63 144.67 L294.26 145.67 L298.03 146.79 L301.88 147.95 L305.78 149.05 L309.69 150.09 L313.57 151.18 L317.39 152.43 L321.12 153.76 L324.71 155.25 L328.16 157.02 L331.42 159.02 L334.48 160.84 L337.31 162.33 L339.89 163.62 L342.21 164.81 L344.25 165.90 L346.00 166.97 L347.44 167.97 L348.58 168.85 L349.39 169.53"/>
<path d="M271.02 141.00 L271.25 141.04 L271.94 141.17 L273.07 141.39 L274.64 141.70 L276.60 142.10 L278.93 142.62 L281.61 143.25 L284.58 143.96 L287.81 144.74 L291.26 145.62 L294.88 146.60 L298.63 147.71 L302.47 148.84 L306.36 149.91 L310.26 150.97 L314.14 152.12 L317.95 153.35 L321.66 154.66 L325.25 156.14 L328.69 157.89 L331.94 159.85 L334.99 161.59 L337.82 163.01 L340.40 164.25 L342.71 165.40 L344.75 166.45 L346.49 167.47 L347.94 168.43 L349.07 169.29 L349.88 169.97 L350.37 170.39"/>
<path d="M271.25 141.33 L271.48 141.38 L272.17 141.50 L273.30 141.72 L274.86 142.02 L276.82 142.43 L279.16 142.95 L281.83 143.58 L284.80 144.29 L288.02 145.07 L291.47 145.94 L295.08 146.93 L298.83 148.03 L302.67 149.14 L306.56 150.21 L310.46 151.29 L314.33 152.44 L318.13 153.67 L321.85 154.97 L325.43 156.44 L328.87 158.18 L332.12 160.13 L335.17 161.84 L337.99 163.24 L340.57 164.47 L342.88 165.60 L344.92 166.63 L346.66 167.64 L348.10 168.59 L349.23 169.44 L350.05 170.11 L350.54 170.53 L350.70 170.68"/>
<path d="M100.00 24.60 L101.88 27.51 L103.63 30.05 L106.80 34.19 L108.27 35.90 L112.31 40.19 L113.51 41.46"/>
<path d="M262.00 115.45 L263.50 116.11 L265.00 116.77 L266.50 117.43 L268.00 118.10 L269.50 118.78 L271.00 119.45 L272.50 120.11 L274.00 120.77 L275.50 121.44 L277.00 122.11 L278.50 122.79 L280.00 123.49 L281.50 124.21 L283.00 124.96 L284.50 125.73 L286.00 126.55 L287.50 127.42 L289.00 128.33 L290.50 129.27 L292.00 130.23 L293.50 131.20 L295.00 132.16 L296.50 133.12 L298.00 134.07 L299.50 135.03 L301.00 136.00 L302.50 136.98 L304.00 137.95 L305.50 138.93 L307.00 139.90 L308.50 140.88 L310.00 141.85 L311.50 142.83 L313.00 143.81 L314.50 144.79 L316.00 145.76 L317.50 146.73 L319.00 147.68 L320.50 148.61 L322.00 149.50 L323.50 150.38 L325.00 151.30 L326.50 152.26 L328.00 153.25 L329.50 154.25 L331.00 155.27 L332.50 156.31 L334.00 157.37 L335.50 158.45 L337.00 159.55 L338.50 160.68 L340.00 161.82 L341.50 162.99 L343.00 164.19 L344.50 165.41 L346.00 166.65 L347.50 167.91 L349.00 169.20 L350.50 170.50" stroke-dasharray="none" stroke-width="1.2"/>
<path d="M240.00 110.52 L240.75 110.93 L241.50 111.35 L242.25 111.77 L243.00 112.20 L243.75 112.62 L244.50 113.04 L245.25 113.49 L246.00 114.00 L246.75 114.58 L247.50 115.24 L248.25 115.95 L249.00 116.70 L249.75 117.48 L250.50 118.27 L251.25 119.07 L252.00 119.90 L252.75 120.76 L253.50 121.63 L254.25 122.48 L255.00 123.31 L255.75 124.14 L256.50 124.96 L257.25 125.77 L258.00 126.59 L258.75 127.40 L259.50 128.19 L260.25 128.95 L261.00 129.66 L261.75 130.34 L262.50 131.03 L263.25 131.74 L264.00 132.48 L264.75 133.24 L265.50 134.00 L266.25 134.77 L267.00 135.56 L267.75 136.36 L268.50 137.20 L269.25 138.06 L270.00 138.95 L270.75 139.82" transform="translate(0.0 0.0)"/>
<path d="M240.00 110.52 L240.75 110.93 L241.50 111.35 L242.25 111.77 L243.00 112.20 L243.75 112.62 L244.50 113.04 L245.25 113.49 L246.00 114.00 L246.75 114.58 L247.50 115.24 L248.25 115.95 L249.00 116.70 L249.75 117.48 L250.50 118.27 L251.25 119.07 L252.00 119.90 L252.75 120.76 L253.50 121.63 L254.25 122.48 L255.00 123.31 L255.75 124.14 L256.50 124.96 L257.25 125.77 L258.00 126.59 L258.75 127.40 L259.50 128.19 L260.25 128.95 L261.00 129.66 L261.75 130.34 L262.50 131.03 L263.25 131.74 L264.00 132.48 L264.75 133.24 L265.50 134.00 L266.25 134.77 L267.00 135.56 L267.75 136.36 L268.50 137.20 L269.25 138.06 L270.00 138.95 L270.75 139.82" transform="translate(0.5 -1.6)"/>
<path d="M240.00 110.52 L240.75 110.93 L241.50 111.35 L242.25 111.77 L243.00 112.20 L243.75 112.62 L244.50 113.04 L245.25 113.49 L246.00 114.00 L246.75 114.58 L247.50 115.24 L248.25 115.95 L249.00 116.70 L249.75 117.48 L250.50 118.27 L251.25 119.07 L252.00 119.90 L252.75 120.76 L253.50 121.63 L254.25 122.48 L255.00 123.31 L255.75 124.14 L256.50 124.96 L257.25 125.77 L258.00 126.59 L258.75 127.40 L259.50 128.19 L260.25 128.95 L261.00 129.66 L261.75 130.34 L262.50 131.03 L263.25 131.74 L264.00 132.48 L264.75 133.24 L265.50 134.00 L266.25 134.77 L267.00 135.56 L267.75 136.36 L268.50 137.20 L269.25 138.06 L270.00 138.95 L270.75 139.82" transform="translate(1.0 -3.2)"/>
</g>
</g>
<circle cx="105.9" cy="162.2" r="3.5" fill="#ff00ff"/>
<rect x="254" y="17.2" width="112.3" height="60.5" fill="#fff"/>
<line x1="321.6" y1="26.3" x2="358" y2="26.3" stroke="#ff0000" stroke-width="0.8"/>
<line x1="321.6" y1="45.9" x2="358" y2="45.9" stroke="#0000ff" stroke-width="0.9" stroke-opacity="0.85" stroke-dasharray="1 1.1"/>
<line x1="321.6" y1="66.4" x2="358" y2="66.4" stroke="#ff00ff" stroke-width="1.7" stroke-opacity="0.5" stroke-dasharray="2.4 0.8"/>
<g transform="translate(313.2 32.0) scale(1.08 1)"><text text-anchor="end" font-size="12">m<tspan>X</tspan><tspan font-size="9.6" dy="-5.3">0</tspan><tspan dy="5.3">=60</tspan></text></g>
<g transform="translate(313.2 52.0) scale(1.08 1)"><text text-anchor="end" font-size="12">m<tspan>X</tspan><tspan font-size="9.6" dy="-5.3">0</tspan><tspan dy="5.3">=90</tspan></text></g>
<g transform="translate(313.2 72.4) scale(1.08 1)"><text text-anchor="end" font-size="12">m<tspan>X</tspan><tspan font-size="9.6" dy="-5.3">0</tspan><tspan dy="5.3">=120</tspan></text></g>
<g stroke="#3c3c3c" stroke-width="1" fill="none">
<rect x="77.15" y="16.25" width="289.85" height="202.10"/>
<line x1="77.15" y1="218.35" x2="77.15" y2="214.35"/><line x1="77.15" y1="16.25" x2="77.15" y2="20.25"/>
<line x1="105.73" y1="218.35" x2="105.73" y2="214.35"/><line x1="105.73" y1="16.25" x2="105.73" y2="20.25"/>
<line x1="134.76" y1="218.35" x2="134.76" y2="214.35"/><line x1="134.76" y1="16.25" x2="134.76" y2="20.25"/>
<line x1="163.79" y1="218.35" x2="163.79" y2="214.35"/><line x1="163.79" y1="16.25" x2="163.79" y2="20.25"/>
<line x1="192.82" y1="218.35" x2="192.82" y2="214.35"/><line x1="192.82" y1="16.25" x2="192.82" y2="20.25"/>
<line x1="221.85" y1="218.35" x2="221.85" y2="214.35"/><line x1="221.85" y1="16.25" x2="221.85" y2="20.25"/>
<line x1="250.88" y1="218.35" x2="250.88" y2="214.35"/><line x1="250.88" y1="16.25" x2="250.88" y2="20.25"/>
<line x1="279.91" y1="218.35" x2="279.91" y2="214.35"/><line x1="279.91" y1="16.25" x2="279.91" y2="20.25"/>
<line x1="308.94" y1="218.35" x2="308.94" y2="214.35"/><line x1="308.94" y1="16.25" x2="308.94" y2="20.25"/>
<line x1="337.97" y1="218.35" x2="337.97" y2="214.35"/><line x1="337.97" y1="16.25" x2="337.97" y2="20.25"/>
<line x1="367.00" y1="218.35" x2="367.00" y2="214.35"/><line x1="367.00" y1="16.25" x2="367.00" y2="20.25"/>
<line x1="77.15" y1="16.25" x2="81.15" y2="16.25"/><line x1="367.00" y1="16.25" x2="363.00" y2="16.25"/>
<line x1="77.15" y1="83.62" x2="81.15" y2="83.62"/><line x1="367.00" y1="83.62" x2="363.00" y2="83.62"/>
<line x1="77.15" y1="150.98" x2="81.15" y2="150.98"/><line x1="367.00" y1="150.98" x2="363.00" y2="150.98"/>
<line x1="77.15" y1="218.35" x2="81.15" y2="218.35"/><line x1="367.00" y1="218.35" x2="363.00" y2="218.35"/>
</g>
<g stroke="#3c3c3c" stroke-width="0.8" fill="none">
<line x1="77.15" y1="63.34" x2="79.35" y2="63.34"/><line x1="367.00" y1="63.34" x2="364.80" y2="63.34"/>
<line x1="77.15" y1="51.47" x2="79.35" y2="51.47"/><line x1="367.00" y1="51.47" x2="364.80" y2="51.47"/>
<line x1="77.15" y1="43.06" x2="79.35" y2="43.06"/><line x1="367.00" y1="43.06" x2="364.80" y2="43.06"/>
<line x1="77.15" y1="36.53" x2="79.35" y2="36.53"/><line x1="367.00" y1="36.53" x2="364.80" y2="36.53"/>
<line x1="77.15" y1="31.20" x2="79.35" y2="31.20"/><line x1="367.00" y1="31.20" x2="364.80" y2="31.20"/>
<line x1="77.15" y1="26.69" x2="79.35" y2="26.69"/><line x1="367.00" y1="26.69" x2="364.80" y2="26.69"/>
<line x1="77.15" y1="22.78" x2="79.35" y2="22.78"/><line x1="367.00" y1="22.78" x2="364.80" y2="22.78"/>
<line x1="77.15" y1="19.33" x2="79.35" y2="19.33"/><line x1="367.00" y1="19.33" x2="364.80" y2="19.33"/>
<line x1="77.15" y1="130.70" x2="79.35" y2="130.70"/><line x1="367.00" y1="130.70" x2="364.80" y2="130.70"/>
<line x1="77.15" y1="118.84" x2="79.35" y2="118.84"/><line x1="367.00" y1="118.84" x2="364.80" y2="118.84"/>
<line x1="77.15" y1="110.42" x2="79.35" y2="110.42"/><line x1="367.00" y1="110.42" x2="364.80" y2="110.42"/>
<line x1="77.15" y1="103.90" x2="79.35" y2="103.90"/><line x1="367.00" y1="103.90" x2="364.80" y2="103.90"/>
<line x1="77.15" y1="98.56" x2="79.35" y2="98.56"/><line x1="367.00" y1="98.56" x2="364.80" y2="98.56"/>
<line x1="77.15" y1="94.05" x2="79.35" y2="94.05"/><line x1="367.00" y1="94.05" x2="364.80" y2="94.05"/>
<line x1="77.15" y1="90.15" x2="79.35" y2="90.15"/><line x1="367.00" y1="90.15" x2="364.80" y2="90.15"/>
<line x1="77.15" y1="86.70" x2="79.35" y2="86.70"/><line x1="367.00" y1="86.70" x2="364.80" y2="86.70"/>
<line x1="77.15" y1="198.07" x2="79.35" y2="198.07"/><line x1="367.00" y1="198.07" x2="364.80" y2="198.07"/>
<line x1="77.15" y1="186.21" x2="79.35" y2="186.21"/><line x1="367.00" y1="186.21" x2="364.80" y2="186.21"/>
<line x1="77.15" y1="177.79" x2="79.35" y2="177.79"/><line x1="367.00" y1="177.79" x2="364.80" y2="177.79"/>
<line x1="77.15" y1="171.26" x2="79.35" y2="171.26"/><line x1="367.00" y1="171.26" x2="364.80" y2="171.26"/>
<line x1="77.15" y1="165.93" x2="79.35" y2="165.93"/><line x1="367.00" y1="165.93" x2="364.80" y2="165.93"/>
<line x1="77.15" y1="161.42" x2="79.35" y2="161.42"/><line x1="367.00" y1="161.42" x2="364.80" y2="161.42"/>
<line x1="77.15" y1="157.51" x2="79.35" y2="157.51"/><line x1="367.00" y1="157.51" x2="364.80" y2="157.51"/>
<line x1="77.15" y1="154.07" x2="79.35" y2="154.07"/><line x1="367.00" y1="154.07" x2="364.80" y2="154.07"/>
</g>
<g transform="translate(78.25 236.50) scale(1.045 1)"><text text-anchor="middle" font-size="12.4">0</text></g>
<g transform="translate(107.23 236.50) scale(1.045 1)"><text text-anchor="middle" font-size="12.4">1</text></g>
<g transform="translate(136.22 236.50) scale(1.045 1)"><text text-anchor="middle" font-size="12.4">2</text></g>
<g transform="translate(165.21 236.50) scale(1.045 1)"><text text-anchor="middle" font-size="12.4">3</text></g>
<g transform="translate(194.19 236.50) scale(1.045 1)"><text text-anchor="middle" font-size="12.4">4</text></g>
<g transform="translate(223.18 236.50) scale(1.045 1)"><text text-anchor="middle" font-size="12.4">5</text></g>
<g transform="translate(252.16 236.50) scale(1.045 1)"><text text-anchor="middle" font-size="12.4">6</text></g>
<g transform="translate(281.15 236.50) scale(1.045 1)"><text text-anchor="middle" font-size="12.4">7</text></g>
<g transform="translate(310.13 236.50) scale(1.045 1)"><text text-anchor="middle" font-size="12.4">8</text></g>
<g transform="translate(339.12 236.50) scale(1.045 1)"><text text-anchor="middle" font-size="12.4">9</text></g>
<g transform="translate(368.10 236.50) scale(1.045 1)"><text text-anchor="middle" font-size="12.4">10</text></g>
<g transform="translate(68.90 20.55) scale(1.100 1)"><text text-anchor="end" font-size="12.4">10</text></g>
<g transform="translate(68.90 87.92) scale(1.100 1)"><text text-anchor="end" font-size="12.4">1</text></g>
<g transform="translate(68.90 155.28) scale(1.100 1)"><text text-anchor="end" font-size="12.4">0.1</text></g>
<g transform="translate(68.90 222.65) scale(1.100 1)"><text text-anchor="end" font-size="12.4">0.01</text></g>
<g transform="translate(206.4 255.9) scale(1.04 1)"><text font-size="12.3">&#969;<tspan font-size="10.6" dy="4.2">k</tspan><tspan dy="-4.2">/m</tspan></text></g>
<g transform="translate(16.7 123.8) rotate(-90) scale(1.05 1)"><text font-size="12.6">n<tspan font-size="10.6" dy="4.4">k</tspan></text></g>
</g>
</svg>
</body></html>
